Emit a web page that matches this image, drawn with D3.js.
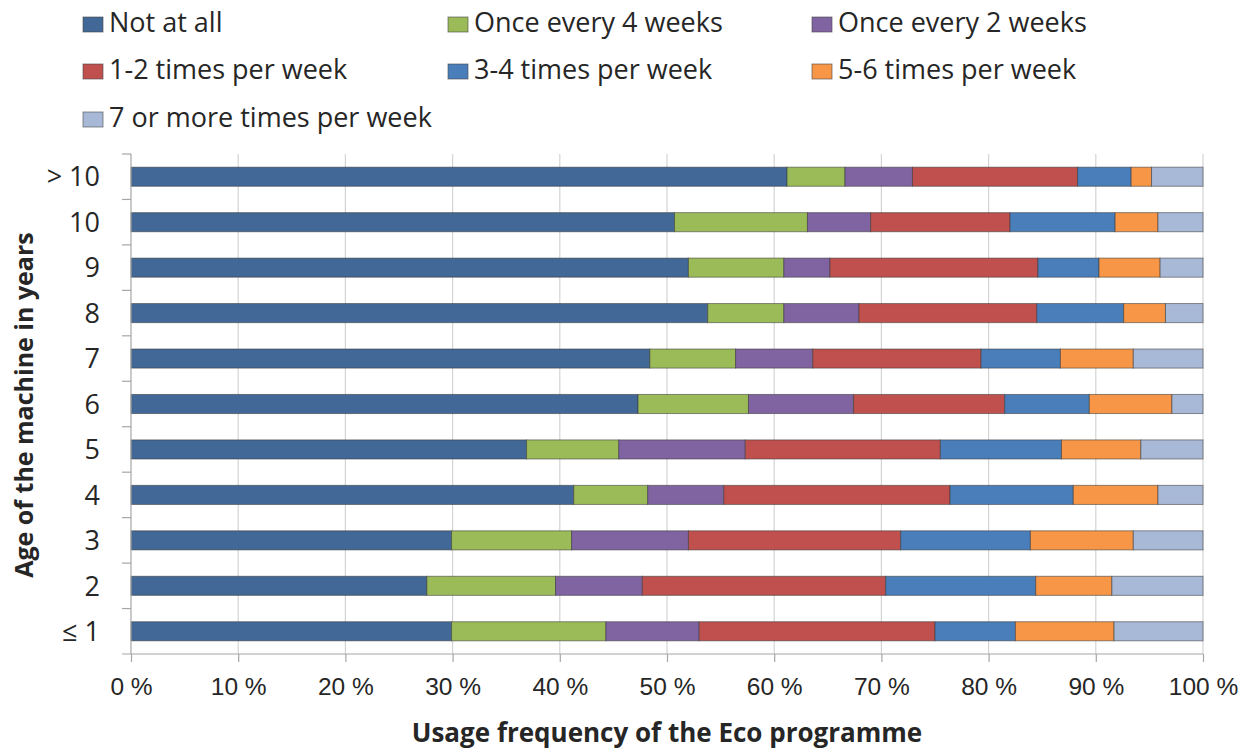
<!DOCTYPE html>
<html>
<head>
<meta charset="utf-8">
<script src="https://cdn.jsdelivr.net/npm/d3@7/dist/d3.min.js"></script>
<style>
  html, body { margin: 0; padding: 0; background: #fff; }
  svg { display: block; font-family: "Open Sans", "Noto Sans", sans-serif; }
</style>
</head>
<body>
<svg id="chart" width="1253" height="749"></svg>
<script>
// Machine age groups, top to bottom
const ages = ["> 10", "10", "9", "8", "7", "6", "5", "4", "3", "2", "\u2264 1"];

// Usage frequency classes (stack order, left to right)
const frequencies = [
  "Not at all",
  "Once every 4 weeks",
  "Once every 2 weeks",
  "1-2 times per week",
  "3-4 times per week",
  "5-6 times per week",
  "7 or more times per week"
];

// Share (%) of each frequency class per age group, in the order of `ages`
const notAtAll     = [61.2, 50.7, 52.0, 53.8, 48.4, 47.3, 36.9, 41.3, 29.9, 27.6, 29.9];
const every4Weeks  = [ 5.4, 12.4,  8.9,  7.1,  8.0, 10.3,  8.6,  6.9, 11.2, 12.0, 14.4];
const every2Weeks  = [ 6.3,  5.9,  4.3,  7.0,  7.2,  9.8, 11.8,  7.1, 10.9,  8.1,  8.7];
const times1to2    = [15.4, 13.0, 19.4, 16.6, 15.7, 14.1, 18.2, 21.1, 19.8, 22.7, 22.0];
const times3to4    = [ 5.0,  9.8,  5.7,  8.1,  7.4,  7.9, 11.3, 11.5, 12.1, 14.0,  7.5];
const times5to6    = [ 1.9,  4.0,  5.7,  3.9,  6.8,  7.7,  7.4,  7.9,  9.6,  7.1,  9.2];
const times7plus   = [ 4.8,  4.2,  4.0,  3.5,  6.5,  2.9,  5.8,  4.2,  6.5,  8.5,  8.3];

const xTicks = [0, 10, 20, 30, 40, 50, 60, 70, 80, 90, 100];

const colors = ["#416896", "#9BBB59", "#8064A2", "#C0504D", "#4A7EBB", "#F79646", "#A8B9D8"];

const seriesValues = [notAtAll, every4Weeks, every2Weeks, times1to2, times3to4, times5to6, times7plus];
const rows = ages.map((age, i) => {
  const r = { age };
  frequencies.forEach((f, k) => { r[f] = seriesValues[k][i]; });
  return r;
});

const svg = d3.select("#chart");
const margin = { left: 131, right: 50, top: 154, bottom: 95 };
const W = 1253, H = 749;
const x = d3.scaleLinear().domain([0, 100]).range([margin.left, W - margin.right]);
const y = d3.scaleBand().domain(ages).range([margin.top, H - margin.bottom]).paddingInner(0.58).paddingOuter(0.29);
const yFull = d3.scaleBand().domain(ages).range([margin.top, H - margin.bottom]);

const textColor = "#262626";

// Vertical gridlines
svg.append("g")
  .selectAll("line")
  .data(xTicks.slice(1))
  .join("line")
  .attr("x1", d => x(d)).attr("x2", d => x(d))
  .attr("y1", margin.top).attr("y2", H - margin.bottom)
  .attr("stroke", "#d4d4d4").attr("stroke-width", 1.2);

// Stacked bars
const stacked = d3.stack().keys(frequencies)(rows);
const layers = svg.append("g").selectAll("g")
  .data(stacked)
  .join("g")
  .attr("fill", (d, i) => colors[i]);

layers.selectAll("rect")
  .data(d => d)
  .join("rect")
  .attr("x", d => x(d[0]))
  .attr("width", d => x(d[1]) - x(d[0]))
  .attr("y", d => y(d.data.age))
  .attr("height", y.bandwidth())
  .attr("stroke", "rgba(55,55,55,0.55)")
  .attr("stroke-width", 1);

// X axis
const xAxis = d3.axisBottom(x)
  .tickValues(xTicks)
  .tickFormat(d => d + " %")
  .tickSize(8)
  .tickPadding(16);
const gx = svg.append("g")
  .attr("transform", `translate(0,${H - margin.bottom})`)
  .call(xAxis);
gx.select(".domain").remove();
gx.append("line")
  .attr("x1", margin.left - 9).attr("x2", x(100))
  .attr("y1", 0).attr("y2", 0)
  .attr("stroke", "#a6a6a6").attr("stroke-width", 1.2);
gx.selectAll(".tick line").attr("stroke", "#a6a6a6").attr("stroke-width", 1.2);
gx.selectAll(".tick text")
  .attr("fill", textColor)
  .style("font-size", "24.5px");

// Y axis
const gy = svg.append("g").attr("transform", `translate(${margin.left},0)`);
gy.append("line")
  .attr("x1", 0).attr("x2", 0)
  .attr("y1", margin.top).attr("y2", H - margin.bottom)
  .attr("stroke", "#a6a6a6").attr("stroke-width", 1.2);
gy.selectAll("line.ytick")
  .data(ages)
  .join("line")
  .attr("class", "ytick")
  .attr("x1", -9).attr("x2", 0)
  .attr("y1", d => yFull(d)).attr("y2", d => yFull(d))
  .attr("stroke", "#a6a6a6").attr("stroke-width", 1.2);
gy.selectAll("text")
  .data(ages)
  .join("text")
  .attr("x", -31)
  .attr("y", d => yFull(d) + yFull.bandwidth() / 2)
  .attr("dy", "0.36em")
  .attr("text-anchor", "end")
  .attr("fill", textColor)
  .style("font-size", "27px")
  .text(d => d);

// Axis titles
svg.append("text")
  .attr("x", 667).attr("y", 742)
  .attr("text-anchor", "middle")
  .attr("fill", textColor)
  .style("font-size", "26px").style("font-weight", "bold")
  .text("Usage frequency of the Eco programme");

svg.append("text")
  .attr("transform", "translate(33,405) rotate(-90)")
  .attr("text-anchor", "middle")
  .attr("fill", textColor)
  .style("font-size", "25px").style("font-weight", "bold")
  .text("Age of the machine in years");

// Legend: three columns, rows placed by text baseline
const legendCols = [83, 448, 812];
const legendBaselines = [32, 79, 127];
const legend = svg.append("g").selectAll("g")
  .data(frequencies)
  .join("g")
  .attr("transform", (d, i) => `translate(${legendCols[i % 3]},${legendBaselines[Math.floor(i / 3)]})`);
legend.append("rect")
  .attr("x", 0).attr("y", -15)
  .attr("width", 20).attr("height", 15)
  .attr("fill", (d, i) => colors[i])
  .attr("stroke", "rgba(70,70,70,0.6)").attr("stroke-width", 1);
legend.append("text")
  .attr("x", 26).attr("y", 0)
  .attr("fill", textColor)
  .style("font-size", "27px")
  .text(d => d);
</script>
</body>
</html>
